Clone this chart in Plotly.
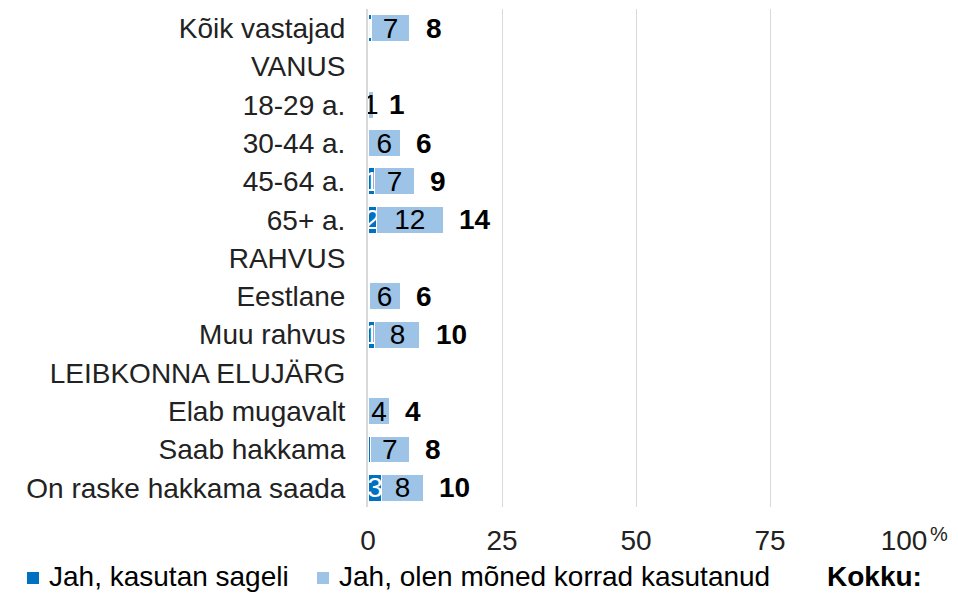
import plotly.graph_objects as go

categories = ["Kõik vastajad", "VANUS", "18-29 a.", "30-44 a.", "45-64 a.", "65+ a.",
              "RAHVUS", "Eestlane", "Muu rahvus", "LEIBKONNA ELUJÄRG",
              "Elab mugavalt", "Saab hakkama", "On raske hakkama saada"]
often = [0.6, None, 0.0, 0.1, 1.3, 1.6, None, 0.2, 1.3, None, 0.1, 0.4, 2.6]
sometimes = [7.2, None, 1.0, 5.9, 7.3, 12.4, None, 5.8, 8.4, None, 3.9, 7.3, 7.7]
x_ticks = [0, 25, 50, 75, 100]
series_names = ["Jah, kasutan sageli", "Jah, olen mõned korrad kasutanud", "Kokku:"]

DARK = "#0070C0"
LIGHT = "#9DC3E6"
FONT = "Arial, Liberation Sans, sans-serif"
FS = 28

W, H = 958, 594
ML, MR, MT, MB = 368, 54, 9, 87
pw, ph = W - ML - MR, H - MT - MB


def px_x(x):
    return (x - ML) / pw


def px_y(y):
    return (H - MB - y) / ph


def lbl(v):
    if v is None:
        return ""
    r = int(round(v))
    return str(r) if r >= 1 else ""


totals = [None if a is None else a + b for a, b in zip(often, sometimes)]

fig = go.Figure()
fig.add_trace(go.Bar(
    y=categories, x=often, orientation="h", name=series_names[0],
    marker=dict(color=DARK, line=dict(color="white", width=1)),
    text=[lbl(v) for v in often], textposition="inside", insidetextanchor="middle",
    textangle=0, constraintext="none",
    insidetextfont=dict(color="white", size=FS, family=FONT),
))
fig.add_trace(go.Bar(
    y=categories, x=sometimes, orientation="h", name=series_names[1],
    marker=dict(color=LIGHT, line=dict(color="white", width=1)),
    text=[lbl(v) for v in sometimes], textposition="inside", insidetextanchor="middle",
    textangle=0, constraintext="none",
    insidetextfont=dict(color="black", size=FS, family=FONT),
))

for c, t in zip(categories, totals):
    if t is None:
        continue
    fig.add_annotation(x=t, y=c, xref="x", yref="y", text="<b>%d</b>" % round(t),
                       showarrow=False, xanchor="left", xshift=14,
                       font=dict(size=FS, color="black", family=FONT))

# percent sign next to the last tick
fig.add_annotation(text="%", xref="paper", yref="paper",
                   x=px_x(939), y=px_y(534),
                   showarrow=False, font=dict(size=20, color="#222", family=FONT),
                   xanchor="center", yanchor="middle")

# manual legend (one row, like the original)
legend_items = [(series_names[0], DARK, 27, 47), (series_names[1], LIGHT, 317, 337),
                (series_names[2], None, None, 825)]
LEG_Y = 576
for name, col, sq_x, tx in legend_items:
    if col is not None:
        fig.add_shape(type="rect", xref="paper", yref="paper",
                      x0=px_x(sq_x), x1=px_x(sq_x + 12), y0=px_y(LEG_Y - 4), y1=px_y(LEG_Y + 8),
                      fillcolor=col, line=dict(width=0))
        txt = name
    else:
        txt = "<b>%s</b>" % name
    fig.add_annotation(text=txt, xref="paper", yref="paper", x=px_x(tx), y=px_y(LEG_Y),
                       xanchor="left", yanchor="middle", showarrow=False,
                       font=dict(size=FS, color="black", family=FONT))

fig.update_layout(
    width=W, height=H,
    margin=dict(l=ML, r=MR, t=MT, b=MB, autoexpand=False),
    barmode="stack", bargap=0.3,
    plot_bgcolor="white", paper_bgcolor="white",
    font=dict(family=FONT, size=FS, color="black"),
    showlegend=False,
    xaxis=dict(range=[0, 100], tickvals=x_ticks, ticktext=[str(v) for v in x_ticks],
               showgrid=True, gridcolor="#D9D9D9", gridwidth=1, zeroline=False,
               showline=False, ticks="", ticklabelstandoff=14, automargin=False,
               tickfont=dict(size=FS, color="#222")),
    yaxis=dict(autorange="reversed", showgrid=False, showline=True, linecolor="#D9D9D9",
               linewidth=2, ticks="", ticklabelstandoff=15, automargin=False,
               tickmode="array", tickvals=categories, ticktext=categories,
               tickfont=dict(size=FS, color="#222")),
)

fig.write_html("out.html", config={"displayModeBar": False},
               post_script="document.body.style.margin='0';document.body.style.overflow='hidden';")
